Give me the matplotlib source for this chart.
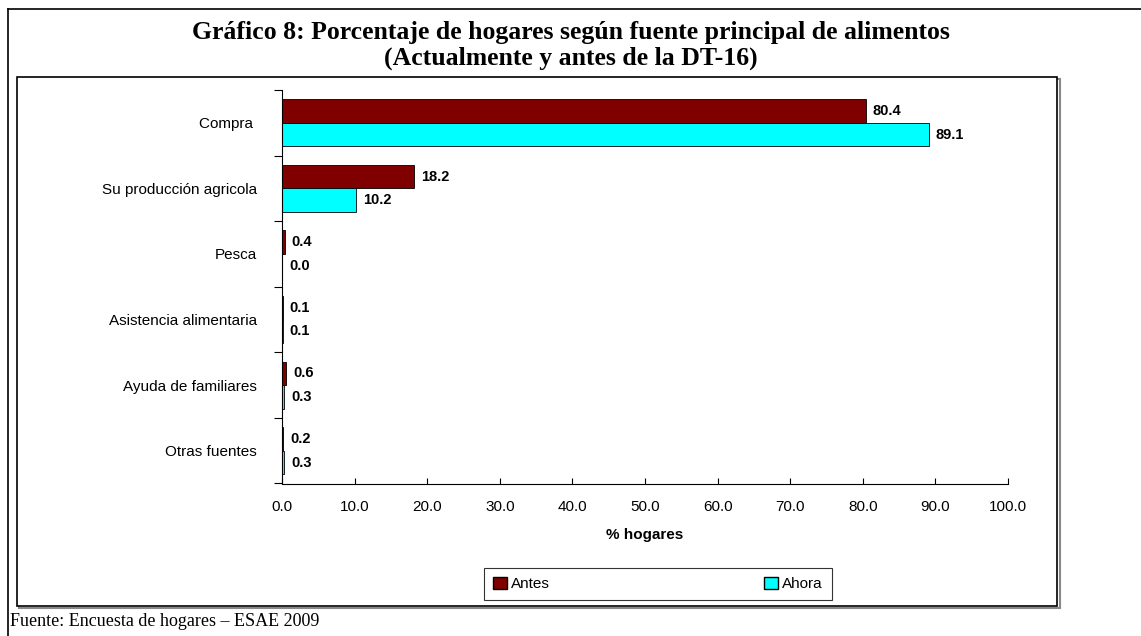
import numpy as np
import matplotlib
matplotlib.use("Agg")
import matplotlib.pyplot as plt
from matplotlib.patches import Rectangle, Patch
from matplotlib.lines import Line2D

categories = ["Compra ", "Su producción agricola", "Pesca",
              "Asistencia alimentaria", "Ayuda de familiares", "Otras fuentes"]
antes = [80.4, 18.2, 0.4, 0.1, 0.6, 0.2]
ahora = [89.1, 10.2, 0.0, 0.1, 0.3, 0.3]
xticks = np.arange(0, 101, 10)

plt.rcParams['font.family'] = ['Liberation Sans', 'DejaVu Sans']

W, H = 1141, 636
fig = plt.figure(figsize=(W / 100, H / 100), dpi=100)

# pixel coords -> figure coords
def fx(px):
    return px / W

def fy(py):
    return 1 - py / H

# page lines, shadow and chart frame
fig.add_artist(Line2D([fx(8), fx(1141)], [fy(9), fy(9)], color='black', lw=1.2))
fig.add_artist(Line2D([fx(8), fx(8)], [fy(9), fy(636)], color='black', lw=1.2))
fig.add_artist(Rectangle((fx(19), fy(608)), fx(1060) - fx(19), fy(79) - fy(608),
                         fill=False, edgecolor='#888888', lw=1.5))
fig.add_artist(Rectangle((fx(17), fy(606)), fx(1057) - fx(17), fy(77) - fy(606),
                         fill=True, facecolor='white', edgecolor='black', lw=1.2))

fig.text(0.5, fy(32), "Gráfico 8: Porcentaje de hogares según fuente principal de alimentos",
         ha='center', va='center', fontsize=18.5, fontweight='bold', family='Liberation Serif')
fig.text(0.5, fy(58), "(Actualmente y antes de la DT-16)",
         ha='center', va='center', fontsize=18.5, fontweight='bold', family='Liberation Serif')
fig.text(fx(10), fy(621), "Fuente: Encuesta de hogares – ESAE 2009",
         ha='left', va='center', fontsize=13, family='Liberation Serif')

ax = fig.add_axes([fx(282), fy(483.5), fx(1008) - fx(282), fy(90) - fy(483.5)])
ax.set_zorder(3)

y = np.arange(len(categories))
h = 0.36
b1 = ax.barh(y - h / 2, antes, height=h, color='#800000', edgecolor='black', lw=0.6, label='Antes')
b2 = ax.barh(y + h / 2, ahora, height=h, color='#00FFFF', edgecolor='black', lw=0.6, label='Ahora')

for bars, vals in ((b1, antes), (b2, ahora)):
    for bar, v in zip(bars, vals):
        ax.annotate(f"{v:.1f}", (bar.get_width(), bar.get_y() + bar.get_height() / 2),
                    xytext=(5, 0), textcoords='offset points', ha='left', va='center',
                    fontsize=10.5, fontweight='bold')

ax.set_ylim(len(categories) - 0.5, -0.5)
ax.set_xlim(0, 100)
ax.set_yticks(np.arange(len(categories) + 1) - 0.5)
ax.set_yticklabels([])
ax.set_yticks(y, minor=True)
ax.set_yticklabels(categories, minor=True, fontsize=11)
ax.tick_params(axis='y', which='minor', length=0, pad=18)
ax.tick_params(axis='y', which='major', length=6, direction='out')
ax.set_xticks(xticks)
ax.set_xticklabels([f"{t:.1f}" for t in xticks], fontsize=11)
ax.tick_params(axis='x', direction='in', length=4, pad=12)
ax.set_xlabel("% hogares", fontsize=11, fontweight='bold', labelpad=10)

for s in ('top', 'right'):
    ax.spines[s].set_visible(False)

handles = [Patch(facecolor='#800000', edgecolor='black', label='Antes'),
           Patch(facecolor='#00FFFF', edgecolor='black', label='Ahora')]
leg = fig.legend(handles=handles, loc='center', bbox_to_anchor=(fx(658), fy(584)), ncol=2,
                 fontsize=11, frameon=True, fancybox=False, edgecolor='black',
                 columnspacing=14, handlelength=0.9, handleheight=0.9, handletextpad=0.3,
                 borderpad=0.6, borderaxespad=0)
leg.get_frame().set_linewidth(0.8)
leg.set_zorder(4)

fig.savefig("out.png", dpi=100)
